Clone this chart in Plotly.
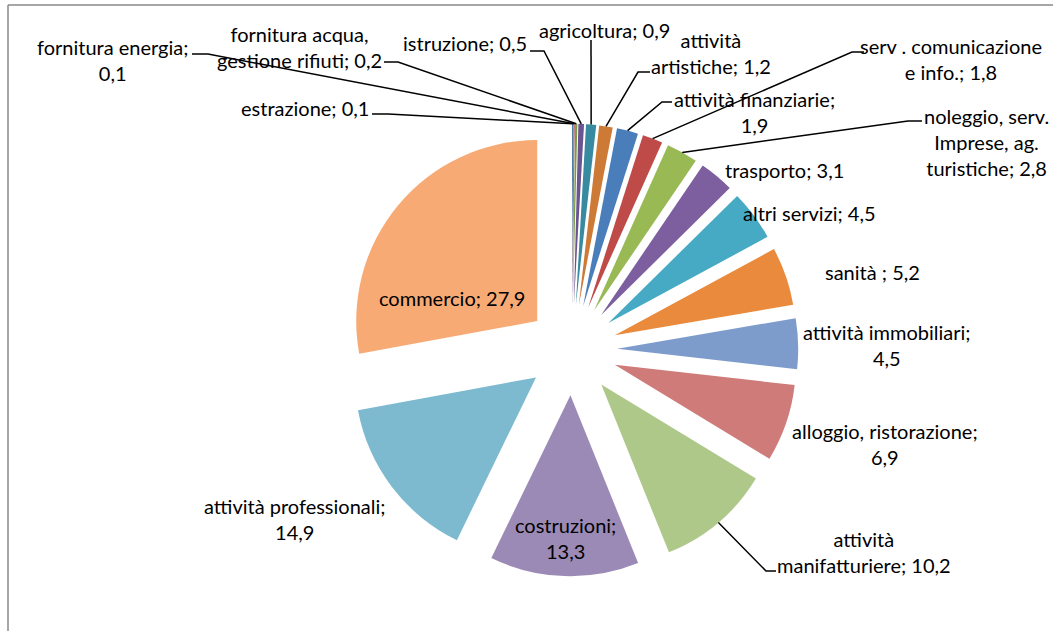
import math
import plotly.graph_objects as go

W, H = 1053, 631

categories = [
    "estrazione", "fornitura energia", "fornitura acqua, gestione rifiuti",
    "istruzione", "agricoltura", "attività artistiche", "attività finanziarie",
    "serv . comunicazione e info.", "noleggio, serv. Imprese, ag. turistiche",
    "trasporto", "altri servizi", "sanità ", "attività immobiliari",
    "alloggio, ristorazione", "attività manifatturiere", "costruzioni",
    "attività professionali", "commercio",
]
values = [0.1, 0.1, 0.2, 0.5, 0.9, 1.2, 1.9, 1.8, 2.8, 3.1, 4.5, 5.2, 4.5,
          6.9, 10.2, 13.3, 14.9, 27.9]
colors = [
    "#3D6A9E", "#9E3D3A", "#7E9A47", "#6A5590", "#378A9F", "#CC7A36",
    "#4A7EBB", "#BE4B48", "#98B954", "#7D5FA0", "#46AAC5", "#E98A3C",
    "#7E9CCB", "#CE7B79", "#AEC88A", "#9C8AB6", "#7DBAD0", "#F8AA75",
]
# word indices after which a label wraps
breaks = {
    "fornitura energia": [1], "fornitura acqua, gestione rifiuti": [1],
    "attività artistiche": [0], "attività finanziarie": [1],
    "serv . comunicazione e info.": [2],
    "noleggio, serv. Imprese, ag. turistiche": [1, 3],
    "attività immobiliari": [1], "alloggio, ristorazione": [1],
    "attività manifatturiere": [0], "costruzioni": [0],
    "attività professionali": [1],
}
# label centres (px)
label_pos = [
    (305, 108), (112, 60), (299, 47), (465, 43), (604, 30), (711, 53),
    (754, 112), (951, 59), (986, 142), (784, 170), (809, 213), (872, 272),
    (887, 345), (885, 444), (864, 552), (565, 538), (295, 519), (452, 298),
]
# leader: (start px, elbow px) or None
leaders = [
    ((372, 114), (388, 114)), ((192, 54), (208, 54)), ((384, 62), (398, 62)),
    ((530, 51), (544, 51)), ((591, 40), (591, 40)), ((650, 72), (638, 72)),
    ((672, 102), (662, 102)), ((864, 52), (852, 52)), ((922, 121), (908, 121)),
    None, None, None, None, None, ((776, 571), (766, 571)), None, None, None,
]

def fmt(v):
    return ("%.1f" % v).replace(".", ",")

texts = []
for c, v in zip(categories, values):
    words = ("%s; %s" % (c, fmt(v))).split(" ")
    b = breaks.get(c, [])
    out = ""
    for i, w in enumerate(words):
        out += w
        if i < len(words) - 1:
            out += "<br>" if i in b else " "
    texts.append(out)

# pie geometry (px)
CX, CY, R, PULL = 572, 350, 181, 0.25
box = R * (2 + 2 * PULL)
dom_x = [(CX - box / 2) / W, (CX + box / 2) / W]
dom_y = [1 - (CY + box / 2) / H, 1 - (CY - box / 2) / H]

fig = go.Figure(go.Pie(
    values=values, labels=categories, sort=False, direction="clockwise",
    rotation=0, pull=[PULL] * len(values), textinfo="none",
    marker=dict(colors=colors, line=dict(width=0)),
    domain=dict(x=dom_x, y=dom_y), showlegend=False, hoverinfo="label+value",
))

def px(x, y):
    return x / W, 1 - y / H

font = dict(family="Lato, 'Open Sans', sans-serif", size=20, color="#000000")
total = sum(values)
cum = 0.0
shapes = []
annotations = []
for i, v in enumerate(values):
    mid = (cum + v / 2) / total * 2 * math.pi
    cum += v
    tx = CX + (R * (1 + PULL)) * math.sin(mid)
    ty = CY - (R * (1 + PULL)) * math.cos(mid)
    lx, ly = label_pos[i]
    ax, ay = px(lx, ly)
    annotations.append(dict(x=ax, y=ay, xref="paper", yref="paper", text=texts[i],
                            showarrow=False, xanchor="center", yanchor="middle",
                            align="center", font=font))
    if leaders[i] is not None:
        (sx, sy), (ex, ey) = leaders[i]
        p1, p2, p3 = px(sx, sy), px(ex, ey), px(tx, ty)
        shapes.append(dict(type="path", xref="paper", yref="paper",
                           path="M %f %f L %f %f L %f %f" % (p1[0], p1[1], p2[0], p2[1], p3[0], p3[1]),
                           line=dict(color="#000000", width=1.5)))

# chart frame (top and left edges visible)
fx0, fy0 = px(8, 5)
shapes.append(dict(type="line", xref="paper", yref="paper", x0=fx0, y0=fy0, x1=1.01, y1=fy0,
                   line=dict(color="#888888", width=1.5)))
shapes.append(dict(type="line", xref="paper", yref="paper", x0=fx0, y0=fy0, x1=fx0, y1=-0.01,
                   line=dict(color="#888888", width=1.5)))

fig.update_layout(
    width=W, height=H, margin=dict(l=0, r=0, t=0, b=0),
    paper_bgcolor="#FFFFFF", plot_bgcolor="#FFFFFF",
    shapes=shapes, annotations=annotations,
)
fig.write_html("out.html")
